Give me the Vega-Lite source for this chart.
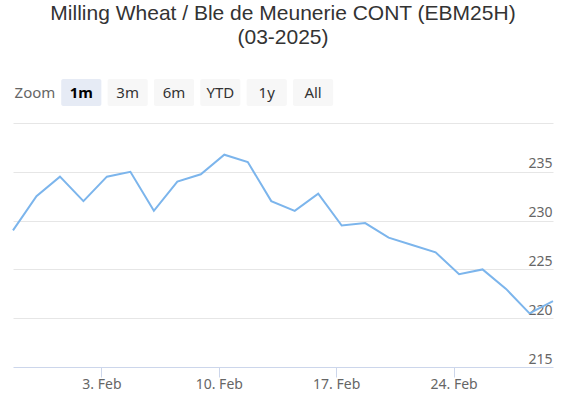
{
  "$schema": "https://vega.github.io/schema/vega-lite/v6.json",
  "padding": {"left": 9, "right": 21, "top": 3, "bottom": 0},
  "config": {"view": {"stroke": null}, "font": "Noto Sans"},
  "title": {
    "text": ["Milling Wheat / Ble de Meunerie CONT (EBM25H)", "(03-2025)"],
    "font": "Liberation Sans",
    "fontSize": 21,
    "fontWeight": "normal",
    "color": "#333333",
    "anchor": "middle",
    "lineHeight": 24,
    "offset": 31
  },
  "spacing": 17,
  "vconcat": [
    {
      "width": 322,
      "height": 27,
      "data": {
        "values": [
          {"label": "Zoom", "kind": "label"},
          {"label": "1m", "kind": "selected"},
          {"label": "3m", "kind": "button"},
          {"label": "6m", "kind": "button"},
          {"label": "YTD", "kind": "button"},
          {"label": "1y", "kind": "button"},
          {"label": "All", "kind": "button"}
        ]
      },
      "encoding": {
        "x": {
          "field": "label",
          "type": "nominal",
          "scale": {"domain": ["Zoom", "1m", "3m", "6m", "YTD", "1y", "All"], "paddingInner": 0.134, "paddingOuter": 0.04},
          "axis": null
        }
      },
      "layer": [
        {
          "transform": [{"filter": "datum.kind != 'label'"}],
          "mark": {"type": "rect", "cornerRadius": 2},
          "encoding": {
            "color": {
              "field": "kind",
              "type": "nominal",
              "scale": {"domain": ["selected", "button"], "range": ["#e6ebf5", "#f7f7f7"]},
              "legend": null
            }
          }
        },
        {
          "transform": [{"filter": "datum.kind == 'label'"}],
          "mark": {"type": "text", "fontSize": 15, "color": "#666666", "baseline": "middle"},
          "encoding": {"text": {"field": "label"}}
        },
        {
          "transform": [{"filter": "datum.kind == 'button'"}],
          "mark": {"type": "text", "fontSize": 15, "color": "#333333", "baseline": "middle"},
          "encoding": {"text": {"field": "label"}}
        },
        {
          "transform": [{"filter": "datum.kind == 'selected'"}],
          "mark": {"type": "text", "fontSize": 15, "fontWeight": "bold", "color": "#000000", "baseline": "middle"},
          "encoding": {"text": {"field": "label"}}
        }
      ]
    },
    {
      "width": 540,
      "height": 244,
      "data": {
        "values": [
          {"date": "2025-01-28", "price": 229.0},
          {"date": "2025-01-29", "price": 232.5},
          {"date": "2025-01-30", "price": 234.5},
          {"date": "2025-01-31", "price": 232.0},
          {"date": "2025-02-03", "price": 234.5},
          {"date": "2025-02-04", "price": 235.0},
          {"date": "2025-02-05", "price": 231.0},
          {"date": "2025-02-06", "price": 234.0},
          {"date": "2025-02-07", "price": 234.75},
          {"date": "2025-02-10", "price": 236.75},
          {"date": "2025-02-11", "price": 236.0},
          {"date": "2025-02-12", "price": 232.0},
          {"date": "2025-02-13", "price": 231.0},
          {"date": "2025-02-14", "price": 232.75},
          {"date": "2025-02-17", "price": 229.5},
          {"date": "2025-02-18", "price": 229.75},
          {"date": "2025-02-19", "price": 228.25},
          {"date": "2025-02-20", "price": 227.5},
          {"date": "2025-02-21", "price": 226.75},
          {"date": "2025-02-24", "price": 224.5},
          {"date": "2025-02-25", "price": 225.0},
          {"date": "2025-02-26", "price": 223.0},
          {"date": "2025-02-27", "price": 220.5},
          {"date": "2025-02-28", "price": 221.75}
        ]
      },
      "mark": {"type": "line", "color": "#7cb5ec", "strokeWidth": 2},
      "encoding": {
        "x": {
          "field": "date",
          "type": "ordinal",
          "scale": {"type": "point", "padding": 0},
          "axis": {
            "title": null,
            "values": ["2025-02-03", "2025-02-10", "2025-02-17", "2025-02-24"],
            "labelExpr": "utcFormat(toDate(datum.value), '%-d. %b')",
            "labelAngle": 0,
            "labelFontSize": 14,
            "labelColor": "#666666",
            "labelPadding": 0,
            "domain": false,
            "tickColor": "#ccd6eb",
            "tickSize": 10,
            "tickOffset": -5.5,
            "grid": false
          }
        },
        "y": {
          "field": "price",
          "type": "quantitative",
          "scale": {"domain": [215, 240], "nice": false, "zero": false},
          "axis": {
            "title": null,
            "orient": "right",
            "values": [215, 220, 225, 230, 235, 240],
            "labelExpr": "datum.value == 240 ? '' : datum.label",
            "grid": true,
            "gridColor": {"condition": {"test": "datum.value == 215", "value": "#ccd6eb"}, "value": "#e6e6e6"},
            "domain": false,
            "ticks": false,
            "labelAlign": "right",
            "labelBaseline": "alphabetic",
            "labelPadding": -1,
            "labelOffset": -4,
            "labelFontSize": 14,
            "labelColor": "#666666"
          }
        }
      }
    }
  ]
}
